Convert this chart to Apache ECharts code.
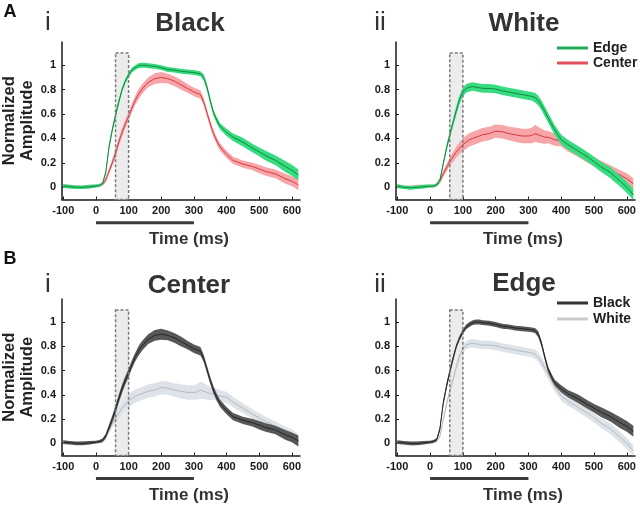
<!DOCTYPE html>
<html>
<head>
<meta charset="utf-8">
<script src="https://cdn.jsdelivr.net/npm/echarts@6/dist/echarts.min.js"></script>
<style>
  html, body { margin: 0; padding: 0; background: #fff; }
  #main { width: 640px; height: 505px; }
</style>
</head>
<body>
<div id="main"></div>
<script>
// time axis (ms) shared by all curves
const time = [-100, -80, -60, -40, -20,
  0, 10, 20, 30, 40, 50, 60, 70, 80, 90,
  100, 110, 120, 130, 140, 150, 160,
  180, 200, 220, 240, 260, 280,
  300, 310, 320, 330, 340, 350, 360, 370, 380,
  400, 420, 450, 480, 500, 520, 550, 580, 600, 620];

// mean normalized amplitude and its s.e.m.
const blackEdge = [0.01, 0.005, 0.0, 0.0, 0.005,
  0.01, 0.015, 0.03, 0.12, 0.33, 0.47, 0.59, 0.70, 0.80, 0.87,
  0.92, 0.96, 0.98, 0.995, 1.0, 1.0, 0.995,
  0.99, 0.98, 0.965, 0.96, 0.95, 0.945,
  0.94, 0.935, 0.93, 0.90, 0.82, 0.71, 0.61, 0.55, 0.50,
  0.45, 0.41, 0.37, 0.32, 0.29, 0.26, 0.22, 0.17, 0.14, 0.10];
const blackEdgeSem = [0.015, 0.015, 0.015, 0.015, 0.015,
  0.012, 0.012, 0.012, 0.02, 0.025, 0.025, 0.025, 0.025, 0.02, 0.02,
  0.02, 0.02, 0.02, 0.02, 0.02, 0.02, 0.02,
  0.02, 0.02, 0.02, 0.02, 0.02, 0.02,
  0.02, 0.02, 0.02, 0.025, 0.025, 0.025, 0.025, 0.025, 0.025,
  0.03, 0.03, 0.035, 0.035, 0.035, 0.04, 0.04, 0.045, 0.045, 0.045];

const blackCenter = [0.01, 0.005, 0.0, 0.0, 0.005,
  0.01, 0.015, 0.025, 0.06, 0.13, 0.20, 0.28, 0.37, 0.45, 0.52,
  0.58, 0.65, 0.71, 0.76, 0.80, 0.83, 0.86,
  0.89, 0.90, 0.89, 0.87, 0.84, 0.81,
  0.78, 0.77, 0.76, 0.70, 0.61, 0.52, 0.44, 0.38, 0.33,
  0.27, 0.22, 0.19, 0.17, 0.15, 0.13, 0.11, 0.07, 0.05, 0.02];
const blackCenterSem = [0.015, 0.015, 0.015, 0.015, 0.015,
  0.012, 0.012, 0.015, 0.02, 0.025, 0.03, 0.035, 0.035, 0.035, 0.035,
  0.035, 0.035, 0.035, 0.04, 0.04, 0.04, 0.04,
  0.045, 0.045, 0.04, 0.04, 0.04, 0.035,
  0.035, 0.035, 0.035, 0.03, 0.03, 0.03, 0.03, 0.03, 0.03,
  0.03, 0.03, 0.03, 0.03, 0.035, 0.035, 0.035, 0.04, 0.04, 0.045];

const whiteEdge = [0.01, 0.0, -0.005, 0.0, 0.005,
  0.01, 0.01, 0.02, 0.06, 0.19, 0.32, 0.43, 0.53, 0.63, 0.72,
  0.78, 0.81, 0.82, 0.825, 0.82, 0.815, 0.81,
  0.81, 0.805, 0.79, 0.78, 0.77, 0.76,
  0.75, 0.745, 0.735, 0.71, 0.67, 0.62, 0.57, 0.52, 0.47,
  0.39, 0.35, 0.30, 0.25, 0.21, 0.17, 0.12, 0.05, 0.0, -0.06];
const whiteEdgeSem = [0.015, 0.015, 0.015, 0.015, 0.015,
  0.012, 0.012, 0.012, 0.015, 0.02, 0.025, 0.03, 0.03, 0.035, 0.035,
  0.035, 0.035, 0.035, 0.035, 0.035, 0.035, 0.035,
  0.035, 0.035, 0.035, 0.035, 0.035, 0.035,
  0.035, 0.035, 0.04, 0.04, 0.04, 0.04, 0.04, 0.04, 0.04,
  0.04, 0.04, 0.04, 0.04, 0.04, 0.04, 0.045, 0.045, 0.045, 0.045];

const whiteCenter = [0.01, 0.0, 0.0, 0.005, 0.005,
  0.01, 0.01, 0.02, 0.05, 0.11, 0.16, 0.21, 0.25, 0.29, 0.32,
  0.35, 0.37, 0.39, 0.40, 0.41, 0.42, 0.43,
  0.44, 0.46, 0.455, 0.44, 0.43, 0.42,
  0.42, 0.425, 0.44, 0.43, 0.42, 0.41, 0.41, 0.40, 0.39,
  0.38, 0.34, 0.29, 0.24, 0.21, 0.18, 0.14, 0.10, 0.07, 0.03];
const whiteCenterSem = [0.015, 0.015, 0.015, 0.015, 0.015,
  0.012, 0.012, 0.015, 0.02, 0.025, 0.03, 0.035, 0.04, 0.045, 0.05,
  0.05, 0.055, 0.055, 0.055, 0.055, 0.055, 0.055,
  0.055, 0.055, 0.055, 0.055, 0.06, 0.06,
  0.06, 0.065, 0.07, 0.065, 0.06, 0.055, 0.05, 0.05, 0.05,
  0.045, 0.045, 0.04, 0.04, 0.04, 0.04, 0.04, 0.04, 0.045, 0.045];

const xTicks = [-100, 0, 100, 200, 300, 400, 500, 600];
const yTicks = [0, 0.2, 0.4, 0.6, 0.8, 1];
const analysisWindow = [60, 100];
const windowSpan = [-0.1, 1.1];
const stimulus = [0, 300];
const stimulusLevel = -0.29;

const FONT = 'Liberation Sans, Arial, sans-serif';

const GREEN = { band: '#38dc80', line: '#11893c', key: '#1faa55' };
const RED = { band: '#f6a5a8', line: '#d8393f', key: '#e2505a' };
const DARK = { band: '#585858', line: '#262626', key: '#333333' };
const LIGHT = { band: '#dde3e8', line: '#b4bbc1', key: '#cbcbcb' };

const panels = [
  { grid: { left: 62, top: 42, width: 238, height: 157.5 }, yName: true,
    curves: [
      { name: 'Center', mean: blackCenter, sem: blackCenterSem, c: RED },
      { name: 'Edge', mean: blackEdge, sem: blackEdgeSem, c: GREEN }] },
  { grid: { left: 396, top: 42, width: 239, height: 157.5 }, yName: false,
    curves: [
      { name: 'Center', mean: whiteCenter, sem: whiteCenterSem, c: RED },
      { name: 'Edge', mean: whiteEdge, sem: whiteEdgeSem, c: GREEN }] },
  { grid: { left: 62, top: 299, width: 238, height: 156.5 }, yName: true,
    curves: [
      { name: 'White', mean: whiteCenter, sem: whiteCenterSem, c: LIGHT },
      { name: 'Black', mean: blackCenter, sem: blackCenterSem, c: DARK }] },
  { grid: { left: 396, top: 299, width: 239, height: 156.5 }, yName: false,
    curves: [
      { name: 'White', mean: whiteEdge, sem: whiteEdgeSem, c: LIGHT },
      { name: 'Black', mean: blackEdge, sem: blackEdgeSem, c: DARK }] }
];

const axisLine = { show: true, onZero: false, lineStyle: { color: '#1a1a1a', width: 1.5 } };
const tickLabel = { color: '#1a1a1a', fontSize: 11, fontWeight: 'bold', fontFamily: FONT };

const grids = [], xAxes = [], yAxes = [], series = [];

panels.forEach(function (p, gi) {
  grids.push(Object.assign({ containLabel: false, outerBoundsMode: 'none' }, p.grid));
  xAxes.push({
    type: 'value', gridIndex: gi, min: -104, max: 625,
    axisLine: axisLine, splitLine: { show: false },
    axisTick: { show: true, inside: true, length: 3, customValues: xTicks, lineStyle: { color: '#1a1a1a' } },
    axisLabel: Object.assign({ customValues: xTicks, margin: 6, hideOverlap: false }, tickLabel)
  });
  yAxes.push({
    type: 'value', gridIndex: gi, min: -0.1, max: 1.19,
    axisLine: axisLine, splitLine: { show: false },
    axisTick: { show: true, inside: true, length: 3, customValues: yTicks, lineStyle: { color: '#1a1a1a' } },
    axisLabel: Object.assign({ customValues: yTicks, margin: 6 }, tickLabel),
    name: p.yName ? 'Normalized\nAmplitude' : '',
    nameLocation: 'middle', nameGap: 26, nameRotate: 90,
    nameTextStyle: { color: '#222', fontSize: 16.5, fontWeight: 'bold', fontFamily: FONT, lineHeight: 18 }
  });

  // analysis window fill (behind)
  series.push({
    type: 'custom', xAxisIndex: gi, yAxisIndex: gi, silent: true, z: 1,
    data: [[analysisWindow[0], analysisWindow[1]]],
    renderItem: function (params, api) {
      const a = api.coord([analysisWindow[0], windowSpan[1]]);
      const b = api.coord([analysisWindow[1], windowSpan[0]]);
      return { type: 'rect', shape: { x: a[0], y: a[1], width: b[0] - a[0], height: b[1] - a[1] },
        style: { fill: '#ececec' } };
    }
  });

  p.curves.forEach(function (cv, k) {
    series.push({
      type: 'custom', xAxisIndex: gi, yAxisIndex: gi, silent: true, clip: true, z: 2 + k * 2,
      data: [[0, 0]],
      renderItem: function (params, api) {
        const up = time.map(function (t, i) { return api.coord([t, cv.mean[i] + cv.sem[i]]); });
        const lo = time.map(function (t, i) { return api.coord([t, cv.mean[i] - cv.sem[i]]); }).reverse();
        return { type: 'polygon', shape: { points: up.concat(lo) }, style: { fill: cv.c.band } };
      }
    });
    series.push({
      name: cv.name, type: 'line', xAxisIndex: gi, yAxisIndex: gi, silent: true, z: 3 + k * 2,
      showSymbol: false, symbol: 'none', clip: true,
      data: time.map(function (t, i) { return [t, cv.mean[i]]; }),
      itemStyle: { color: cv.c.key },
      lineStyle: { color: cv.c.line, width: 1 }
    });
  });

  // analysis window dashed outline (on top)
  series.push({
    type: 'custom', xAxisIndex: gi, yAxisIndex: gi, silent: true, z: 10,
    data: [[analysisWindow[0], analysisWindow[1]]],
    renderItem: function (params, api) {
      const a = api.coord([analysisWindow[0], windowSpan[1]]);
      const b = api.coord([analysisWindow[1], windowSpan[0]]);
      return { type: 'rect', shape: { x: a[0], y: a[1], width: b[0] - a[0], height: b[1] - a[1] },
        style: { fill: 'none', stroke: '#7a7a7a', lineWidth: 1.5, lineDash: [3, 2] } };
    }
  });

  // stimulus duration bar below the axis
  series.push({
    type: 'line', xAxisIndex: gi, yAxisIndex: gi, silent: true, clip: false, z: 10,
    showSymbol: false, symbol: 'none',
    data: [[stimulus[0], stimulusLevel], [stimulus[1], stimulusLevel]],
    lineStyle: { color: '#3a3a3a', width: 3 }
  });
});

function txt(x, y, text, size, weight, color) {
  return { type: 'text', x: x, y: y, style: { text: text, fill: color || '#333', align: 'center',
    verticalAlign: 'middle', font: weight + ' ' + size + 'px ' + FONT } };
}

const legendText = { color: '#222', fontSize: 14, fontWeight: 'bold', fontFamily: FONT, overflow: 'none' };

const chart = echarts.init(document.getElementById('main'));
chart.setOption({
  animation: false,
  grid: grids,
  xAxis: xAxes,
  yAxis: yAxes,
  legend: [
    { data: [{ name: 'Edge', itemStyle: { color: GREEN.key } }, { name: 'Center', itemStyle: { color: RED.key } }],
      orient: 'vertical', left: 557, top: 41, padding: 0, width: 90, icon: 'rect', itemWidth: 31, itemHeight: 3, itemGap: 1,
      selectedMode: false, textStyle: legendText },
    { data: [{ name: 'Black', itemStyle: { color: DARK.key } }, { name: 'White', itemStyle: { color: LIGHT.key } }],
      orient: 'vertical', left: 557, top: 296, padding: 0, width: 90, icon: 'rect', itemWidth: 31, itemHeight: 3, itemGap: 2,
      selectedMode: false, textStyle: legendText }
  ],
  graphic: [
    txt(10, 12, 'A', 18, 'bold', '#111'),
    txt(10, 259, 'B', 18, 'bold', '#111'),
    txt(48, 23, 'i', 26, 'normal', '#333'),
    txt(380, 23, 'ii', 26, 'normal', '#333'),
    txt(48, 285, 'i', 26, 'normal', '#333'),
    txt(380, 285, 'ii', 26, 'normal', '#333'),
    txt(190, 24, 'Black', 26, 'bold'),
    txt(524, 24, 'White', 26, 'bold'),
    txt(189, 286, 'Center', 26, 'bold'),
    txt(524, 284, 'Edge', 26, 'bold'),
    txt(189, 239, 'Time (ms)', 17, 'bold'),
    txt(523, 239, 'Time (ms)', 17, 'bold'),
    txt(189, 495, 'Time (ms)', 17, 'bold'),
    txt(523, 495, 'Time (ms)', 17, 'bold')
  ],
  series: series
});
</script>
</body>
</html>
